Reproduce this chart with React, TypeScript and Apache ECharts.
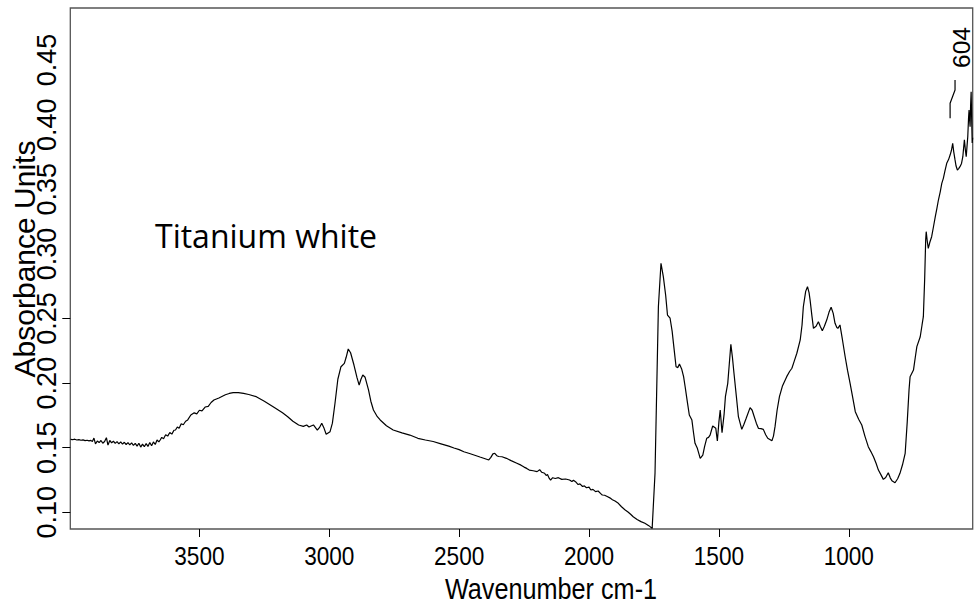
import React, { useEffect, useRef } from "react";
import * as echarts from "echarts";

// ---- data (wavenumber cm-1, absorbance) ----
const ohRegion: number[][] = [
  [3996, 0.1565], [3988, 0.1562], [3980, 0.1566], [3972, 0.156], [3964, 0.1563], [3956, 0.1558],
  [3948, 0.1561], [3940, 0.1555], [3932, 0.1558], [3925, 0.1553], [3918, 0.1557], [3912, 0.1548],
  [3906, 0.1575], [3900, 0.153], [3893, 0.1552], [3886, 0.154], [3879, 0.1556], [3872, 0.1535],
  [3865, 0.1548], [3858, 0.1578], [3852, 0.152], [3845, 0.1556], [3838, 0.1538], [3831, 0.155],
  [3824, 0.1534], [3817, 0.1547], [3810, 0.153], [3803, 0.1545], [3796, 0.1528], [3789, 0.1542],
  [3782, 0.1525], [3775, 0.154], [3768, 0.1522], [3761, 0.1537], [3754, 0.1518], [3747, 0.1533],
  [3740, 0.1512], [3733, 0.1535], [3726, 0.1505], [3719, 0.1528], [3712, 0.1508], [3705, 0.1532],
  [3698, 0.151], [3691, 0.154], [3684, 0.1515], [3677, 0.1545], [3670, 0.1525], [3663, 0.156],
  [3656, 0.1545], [3651, 0.156], [3645, 0.158], [3638, 0.157], [3630, 0.16], [3622, 0.159],
  [3614, 0.1618], [3606, 0.1605], [3598, 0.1635], [3592, 0.1637], [3585, 0.166], [3578, 0.165],
  [3570, 0.1685], [3562, 0.1678], [3553, 0.1705], [3545, 0.1715], [3533, 0.1753], [3520, 0.177],
  [3510, 0.1762], [3500, 0.179], [3490, 0.1785], [3478, 0.1815], [3466, 0.182], [3455, 0.185],
  [3444, 0.1869], [3425, 0.1885], [3400, 0.191], [3385, 0.192], [3370, 0.1926], [3350, 0.1926],
  [3330, 0.192], [3310, 0.1912], [3281, 0.1895], [3250, 0.186], [3230, 0.1835], [3207, 0.1805],
  [3180, 0.177], [3160, 0.174], [3140, 0.1705],
];

const chRegion: number[][] = [
  [3118, 0.1676], [3100, 0.1665], [3087, 0.1676], [3078, 0.166], [3070, 0.1668], [3061, 0.1676],
  [3046, 0.1637], [3038, 0.1655], [3029, 0.1689], [3020, 0.165], [3012, 0.1604], [2997, 0.1624],
  [2988, 0.169], [2978, 0.1844], [2967, 0.203], [2955, 0.2127], [2942, 0.2153], [2935, 0.22],
  [2927, 0.2264], [2918, 0.2235], [2905, 0.214], [2893, 0.204], [2885, 0.1985], [2878, 0.203],
  [2871, 0.2063], [2862, 0.2045], [2849, 0.1947], [2840, 0.186], [2830, 0.1792], [2815, 0.174],
  [2804, 0.1715], [2780, 0.167], [2754, 0.1637], [2720, 0.1615], [2690, 0.1598], [2659, 0.1573],
  [2630, 0.156], [2600, 0.1548], [2570, 0.153],
];

const baselineRegion: number[][] = [
  [2540, 0.1512], [2520, 0.1498], [2500, 0.1485], [2482, 0.1469], [2460, 0.1455], [2440, 0.1442],
  [2420, 0.1428], [2400, 0.1415], [2386, 0.1405], [2378, 0.1425], [2370, 0.1452], [2363, 0.1457],
  [2355, 0.1438], [2348, 0.1432], [2335, 0.143], [2318, 0.1418], [2300, 0.14], [2280, 0.1382],
  [2262, 0.1365], [2250, 0.135], [2240, 0.134], [2230, 0.1327], [2215, 0.1322], [2200, 0.1315],
  [2190, 0.133], [2182, 0.131], [2171, 0.1302], [2165, 0.1285], [2160, 0.1292], [2153, 0.1262],
  [2148, 0.125], [2140, 0.1268], [2130, 0.1262], [2118, 0.1268], [2105, 0.1255], [2090, 0.1258],
  [2075, 0.125], [2066, 0.1238], [2060, 0.1248], [2052, 0.1237], [2042, 0.1215], [2035, 0.122],
  [2025, 0.12], [2018, 0.1205], [2010, 0.119], [2000, 0.1195], [1993, 0.1173], [1985, 0.1178],
  [1975, 0.116], [1965, 0.1165], [1955, 0.1145], [1949, 0.1134], [1940, 0.1132], [1930, 0.1122],
  [1920, 0.1112], [1910, 0.1098], [1900, 0.1088], [1890, 0.1075], [1875, 0.1043], [1862, 0.102],
  [1850, 0.1003], [1840, 0.0985], [1830, 0.0966], [1815, 0.0945], [1800, 0.0928], [1785, 0.0915],
  [1770, 0.0897], [1757, 0.0876],
];

const fingerprintRegion: number[][] = [
  [1746, 0.1302], [1733, 0.2591], [1723, 0.2927], [1714, 0.2824], [1705, 0.268], [1698, 0.2527],
  [1688, 0.2502], [1680, 0.24], [1675, 0.2308], [1665, 0.2127], [1658, 0.212], [1652, 0.2148],
  [1643, 0.2107], [1636, 0.205], [1630, 0.1972], [1622, 0.186], [1614, 0.1753], [1604, 0.1714],
  [1598, 0.162], [1592, 0.1534], [1583, 0.1495], [1572, 0.1418], [1562, 0.1443], [1555, 0.151],
  [1547, 0.1573], [1540, 0.158], [1534, 0.1598], [1524, 0.1668], [1512, 0.165], [1506, 0.1552],
  [1500, 0.17], [1495, 0.1792], [1488, 0.1616], [1480, 0.176], [1475, 0.1895], [1466, 0.1998],
  [1460, 0.215], [1454, 0.23], [1448, 0.22], [1442, 0.2076], [1433, 0.19], [1425, 0.174],
  [1412, 0.1642], [1404, 0.168], [1395, 0.1728], [1380, 0.181], [1372, 0.179], [1364, 0.174],
  [1356, 0.169], [1348, 0.165], [1338, 0.1648], [1329, 0.1642], [1320, 0.16], [1312, 0.1573],
  [1296, 0.1554], [1290, 0.159], [1284, 0.1663], [1276, 0.179], [1267, 0.1895], [1255, 0.198],
  [1239, 0.205], [1228, 0.209], [1219, 0.2115], [1210, 0.217], [1200, 0.2231], [1187, 0.2334],
  [1180, 0.245], [1175, 0.2591], [1166, 0.271], [1159, 0.2746], [1153, 0.27], [1149, 0.2643],
  [1142, 0.252], [1136, 0.2424], [1126, 0.244], [1117, 0.2475], [1110, 0.244], [1102, 0.2406],
  [1094, 0.244], [1085, 0.2488], [1076, 0.255], [1068, 0.2587], [1060, 0.254], [1053, 0.2463],
  [1046, 0.243], [1042, 0.2424], [1034, 0.245], [1024, 0.233], [1014, 0.2204], [1005, 0.21],
  [995, 0.1998], [985, 0.189], [975, 0.1779], [962, 0.172], [950, 0.1676], [938, 0.159],
  [925, 0.1508], [915, 0.147], [905, 0.143], [895, 0.138], [886, 0.1327], [876, 0.129],
  [867, 0.1255], [858, 0.127], [848, 0.1306], [840, 0.1265], [834, 0.1245], [822, 0.1229],
  [812, 0.126], [803, 0.1302], [793, 0.137], [783, 0.1457], [775, 0.17], [768, 0.195],
  [764, 0.205], [751, 0.2101], [744, 0.22], [738, 0.2282], [725, 0.2359], [718, 0.245],
  [713, 0.2514], [708, 0.28], [704, 0.3108], [702, 0.3172], [698, 0.31], [694, 0.3043],
  [688, 0.309], [681, 0.3133], [674, 0.321], [667, 0.3288], [661, 0.335], [655, 0.3417],
  [648, 0.348], [642, 0.3546], [636, 0.3585], [630, 0.364], [623, 0.3701], [616, 0.373],
  [610, 0.3765], [605, 0.38], [600, 0.3856], [596, 0.379], [591, 0.3727], [587, 0.368],
  [582, 0.3649], [577, 0.366], [572, 0.3675], [566, 0.37], [561, 0.3752], [558, 0.382],
  [555, 0.3882], [551, 0.38], [548, 0.3752], [545, 0.383], [542, 0.3907], [539, 0.405],
  [537, 0.4114], [535, 0.404], [533, 0.3985], [531, 0.415], [529, 0.4255], [527, 0.405],
  [525, 0.3858], [523, 0.39],
];

const peakLeader: number[][] = [[610, 0.405], [610, 0.4166], [591, 0.4268], [591, 0.4346]];
const peakLabel = "604";
const sampleName = "Titanium white";

const xTickValues = [1000, 1500, 2000, 2500, 3000, 3500];
const yTickValues = [0.1, 0.15, 0.2, 0.25];
const yLabelValues = [0.1, 0.15, 0.2, 0.25, 0.3, 0.35, 0.4, 0.45];
const xTitle = "Wavenumber cm-1";
const yTitle = "Absorbance Units";

const X_MIN = 523;
const X_MAX = 3997;
const Y_MIN = 0.0871;
const Y_MAX = 0.4903;

const spectrum = [...ohRegion, ...chRegion, ...baselineRegion, ...fingerprintRegion];

export default function App() {
  const ref = useRef<HTMLDivElement>(null);
  useEffect(() => {
    if (!ref.current) return;
    const chart = echarts.init(ref.current, null, { renderer: "svg" });
    const sans = "'Liberation Sans', Arial, sans-serif";
    const squeeze = 0.87;
    chart.setOption({
      animation: false,
      backgroundColor: "#ffffff",
      grid: {
        left: 70.3,
        right: 6.3,
        top: 8,
        bottom: 77,
        show: true,
        borderColor: "#555555",
        borderWidth: 1.3,
        backgroundColor: "transparent",
      },
      xAxis: {
        type: "value",
        min: X_MIN,
        max: X_MAX,
        inverse: true,
        axisLine: { show: false },
        splitLine: { show: false },
        axisTick: { show: true, length: 8, lineStyle: { color: "#000", width: 1 }, customValues: xTickValues },
        axisLabel: { show: false },
      },
      yAxis: {
        type: "value",
        min: Y_MIN,
        max: Y_MAX,
        axisLine: { show: false },
        splitLine: { show: false },
        axisTick: { show: true, length: 8, lineStyle: { color: "#000", width: 1 }, customValues: yTickValues },
        axisLabel: {
          customValues: yLabelValues,
          rotate: 90,
          fontFamily: sans,
          fontSize: 27,
          color: "#000",
          margin: 10,
          formatter: (v: number) => v.toFixed(2),
        },
      },
      series: [
        {
          type: "line",
          data: spectrum,
          showSymbol: false,
          symbol: "none",
          lineStyle: { color: "#000", width: 1.2 },
          silent: true,
        },
        {
          type: "line",
          data: peakLeader,
          showSymbol: false,
          symbol: "none",
          lineStyle: { color: "#000", width: 1.2 },
          silent: true,
        },
        {
          type: "custom",
          silent: true,
          clip: false,
          data: xTickValues.map((v) => [v, Y_MIN]),
          encode: { x: 0, y: 1 },
          renderItem: (_params: any, api: any) => {
            const v = api.value(0);
            const p = api.coord([v, Y_MIN]);
            return {
              type: "text",
              x: p[0],
              y: p[1] + 14,
              scaleX: squeeze,
              style: {
                text: String(v),
                font: `26px ${sans}`,
                fill: "#000",
                align: "center",
                verticalAlign: "top",
                textAlign: "center",
                textVerticalAlign: "top",
              },
            };
          },
        },
      ],
      graphic: [
        {
          type: "text",
          x: 24,
          y: 259,
          rotation: Math.PI / 2,
          style: { text: yTitle, font: `30px ${sans}`, fill: "#000", align: "center", verticalAlign: "middle", textAlign: "center", textVerticalAlign: "middle" },
        },
        {
          type: "text",
          x: 551,
          y: 589,
          scaleX: squeeze,
          style: { text: xTitle, font: `29px ${sans}`, fill: "#000", align: "center", verticalAlign: "middle", textAlign: "center", textVerticalAlign: "middle" },
        },
        {
          type: "text",
          x: 961.5,
          y: 47.5,
          rotation: Math.PI / 2,
          style: { text: peakLabel, font: `24.5px ${sans}`, fill: "#000", align: "center", verticalAlign: "middle", textAlign: "center", textVerticalAlign: "middle" },
        },
        {
          type: "text",
          x: 155,
          y: 235,
          style: { text: sampleName, font: `32px 'Open Sans', sans-serif`, fill: "#000", align: "left", verticalAlign: "middle", textAlign: "left", textVerticalAlign: "middle" },
        },
      ],
    });
    return () => chart.dispose();
  }, []);
  return <div ref={ref} style={{ position: "fixed", left: 0, top: 0, width: 979, height: 606, background: "#fff" }} />;
}
